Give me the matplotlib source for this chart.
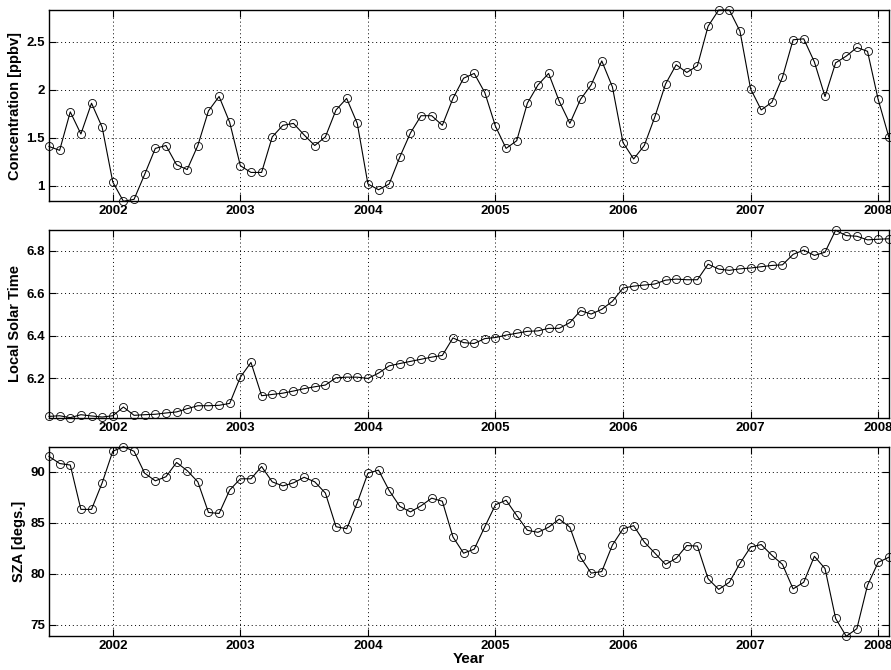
import numpy as np
import pandas as pd
import matplotlib
matplotlib.use("Agg")
import matplotlib.pyplot as plt
from matplotlib.ticker import FuncFormatter

plt.rcParams["font.family"] = ["Liberation Sans", "DejaVu Sans"]
plt.rcParams["font.weight"] = "bold"

# =============================
# Data (monthly, Jul 2001 - Feb 2008)
# =============================
months = pd.period_range("2001-07", "2008-02", freq="M")

concentration = [
    1.41, 1.37, 1.77, 1.54, 1.86, 1.61,
    1.04, 0.84, 0.86, 1.12, 1.39, 1.42, 1.22, 1.17, 1.42, 1.78, 1.93, 1.66, 1.21, 1.14, 1.14, 1.51, 1.63, 1.65,
    1.53, 1.42, 1.51, 1.79, 1.91, 1.65, 1.02, 0.96, 1.02, 1.30, 1.55, 1.73, 1.73, 1.63, 1.91, 2.12, 2.17, 1.97,
    1.62, 1.39, 1.47, 1.86, 2.05, 2.17, 1.88, 1.65, 1.90, 2.05, 2.30, 2.03,
    1.45, 1.28, 1.42, 1.72, 2.06, 2.26, 2.18, 2.25, 2.66, 2.83, 2.83, 2.61,
    2.01, 1.79, 1.87, 2.13, 2.52, 2.53, 2.29, 1.93, 2.28, 2.35, 2.44, 2.40,
    1.90, 1.51,
]

local_solar_time = [
    6.022, 6.025, 6.016, 6.030, 6.024, 6.019,
    6.025, 6.066, 6.027, 6.030, 6.032, 6.038, 6.043, 6.058, 6.072, 6.072, 6.074, 6.083,
    6.206, 6.275, 6.119, 6.125, 6.131, 6.141, 6.152, 6.161, 6.169, 6.203, 6.206, 6.206,
    6.200, 6.225, 6.259, 6.270, 6.280, 6.290, 6.300, 6.308, 6.390, 6.368, 6.364, 6.387,
    6.392, 6.403, 6.412, 6.421, 6.423, 6.435, 6.435, 6.462, 6.518, 6.502, 6.524, 6.562,
    6.624, 6.633, 6.638, 6.643, 6.661, 6.666, 6.663, 6.663, 6.736, 6.713, 6.707, 6.714,
    6.718, 6.724, 6.730, 6.733, 6.782, 6.802, 6.777, 6.792, 6.895, 6.870, 6.867, 6.850,
    6.853, 6.855,
]

sza = [
    91.5, 90.8, 90.65, 86.3, 86.3, 88.9,
    92.0, 92.45, 92.0, 89.85, 89.1, 89.5, 90.9, 90.1, 89.0, 86.0, 85.9, 88.2,
    89.3, 89.3, 90.5, 89.0, 88.6, 88.9, 89.45, 89.0, 87.9, 84.6, 84.4, 86.95,
    89.85, 90.15, 88.15, 86.6, 86.05, 86.65, 87.4, 87.1, 83.6, 82.0, 82.4, 84.6,
    86.75, 87.2, 85.7, 84.25, 84.05, 84.55, 85.35, 84.55, 81.6, 80.05, 80.2, 82.8,
    84.4, 84.7, 83.1, 82.0, 80.9, 81.5, 82.75, 82.7, 79.5, 78.45, 79.15, 81.0,
    82.6, 82.85, 81.8, 80.9, 78.5, 79.15, 81.7, 80.5, 75.6, 73.85, 74.6, 78.85,
    81.1, 81.6,
]

year_ticks = [2002, 2003, 2004, 2005, 2006, 2007, 2008]

# decimal year of each month
t = np.array([p.year + (p.month - 1) / 12.0 for p in months])

# =============================
# Figure
# =============================
fig = plt.figure(figsize=(8.91, 6.70), dpi=100)

left = 0.055
width = 0.9975 - left
positions = [
    [left, 0.6996, width, 0.2855],
    [left, 0.3766, width, 0.2797],
    [left, 0.0503, width, 0.2830],
]

panels = [
    (concentration, "Concentration [ppbv]", [1, 1.5, 2, 2.5]),
    (local_solar_time, "Local Solar Time", [6.2, 6.4, 6.6, 6.8]),
    (sza, "SZA [degs.]", [75, 80, 85, 90]),
]

for pos, (values, label, yticks) in zip(positions, panels):
    ax = fig.add_axes(pos)
    ax.plot(t, values, color="black", linewidth=0.8, marker="o",
            markersize=5.8, markerfacecolor="none", markeredgecolor="black",
            markeredgewidth=0.6, clip_on=False, zorder=3)
    ax.set_xlim(t[0], t[-1])
    ax.set_ylim(min(values), max(values))
    ax.set_xticks(year_ticks)
    ax.set_yticks(yticks)
    ax.xaxis.set_major_formatter(FuncFormatter(lambda v, p: "%d" % round(v)))
    ax.yaxis.set_major_formatter(FuncFormatter(lambda v, p: "%g" % v))
    ax.grid(True, color="black", linestyle=(0, (1, 3)), linewidth=0.7)
    ax.tick_params(direction="in", top=True, right=True, length=5,
                   width=0.8, labelsize=9.5, pad=3)
    for lbl in ax.get_xticklabels() + ax.get_yticklabels():
        lbl.set_fontweight("bold")
    for sp in ax.spines.values():
        sp.set_linewidth(1.0)
    ax.set_ylabel(label, fontsize=10.5, fontweight="bold", labelpad=3)

ax.set_xlabel("Year", fontsize=11, fontweight="bold", labelpad=0)

fig.savefig("out.png", dpi=100)
